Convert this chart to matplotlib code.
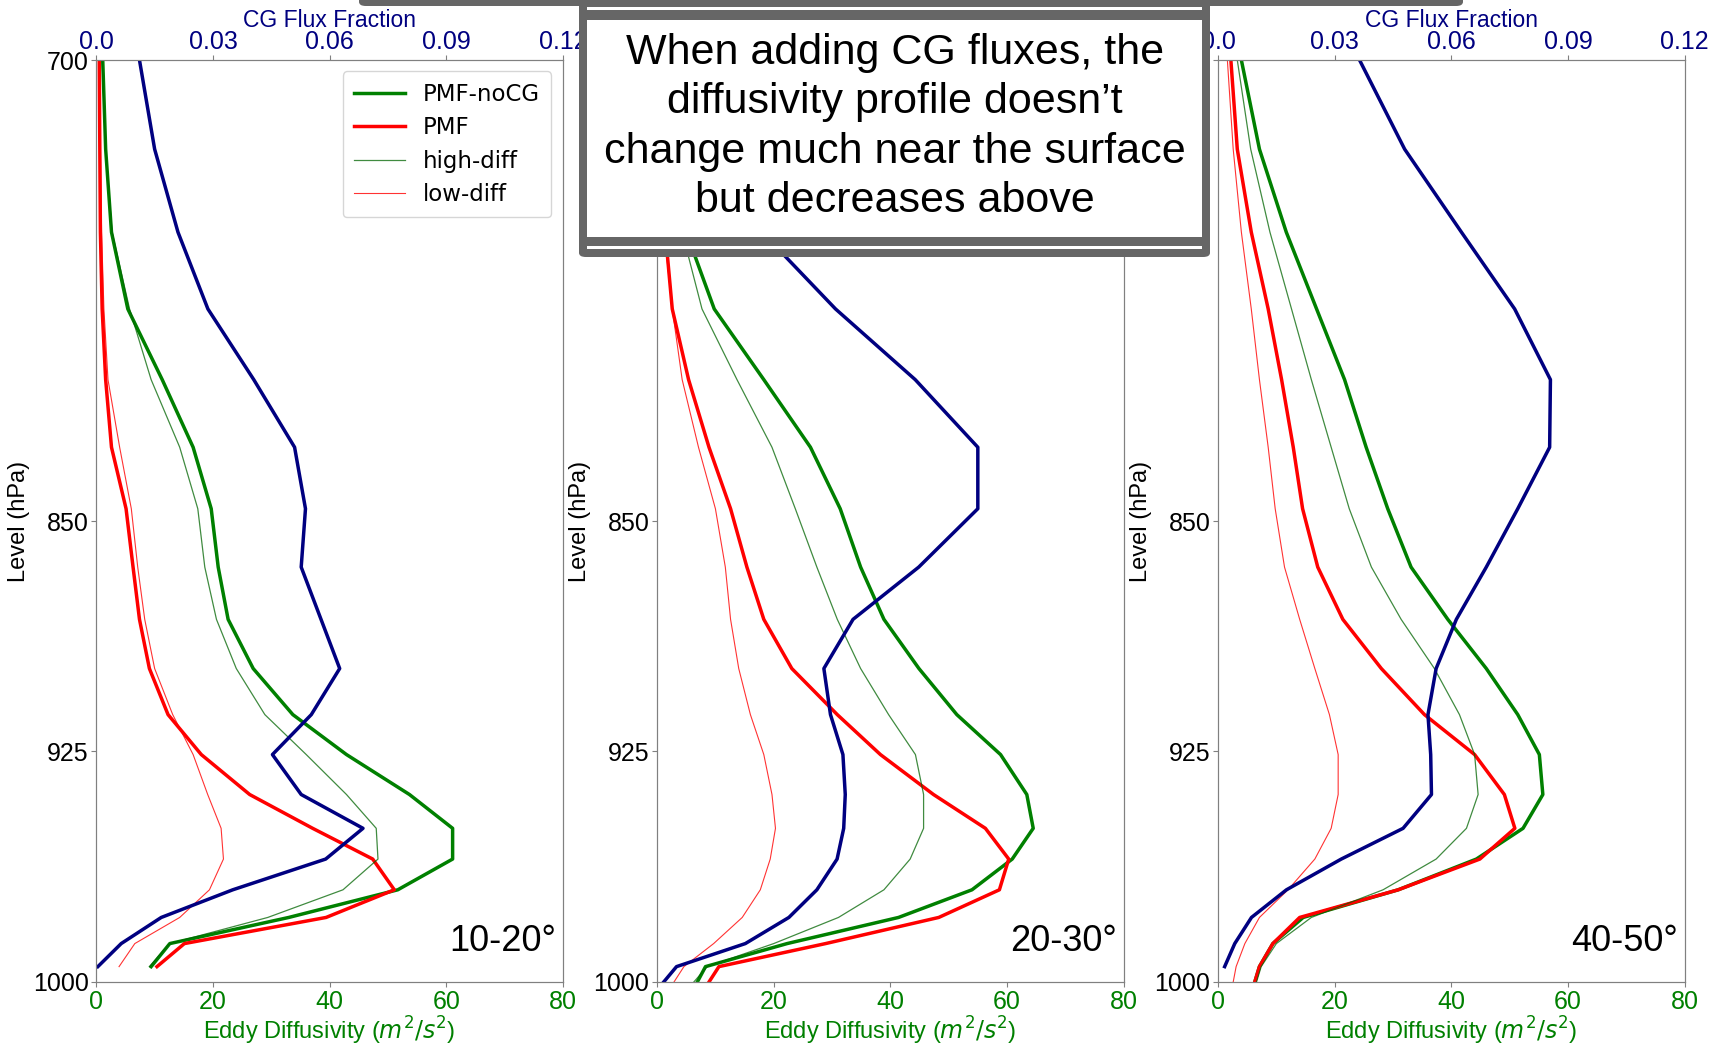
import matplotlib
matplotlib.use("Agg")
import matplotlib.pyplot as plt
from matplotlib.patches import Rectangle, FancyBboxPatch

plt.rcParams['font.family'] = ['Liberation Sans', 'DejaVu Sans']

# model levels (hPa)
LEV = [700, 729, 756, 781, 804, 826, 846, 865, 882, 898, 913, 926, 939, 950, 960, 970, 979, 987.5, 995]
LEV_SFC = LEV + [1000]

panel_names = ['10-20°', '20-30°', '40-50°']

# eddy diffusivity (m2/s2)
nocg_1 = [1.1, 1.6, 2.6, 5.4, 11.3, 16.6, 19.7, 20.9, 22.6, 26.9, 33.7, 42.9, 53.7, 61.1, 61.1, 51.7, 33.0, 12.6, 9.4]
pmf_1 = [0.5, 0.6, 0.7, 1.0, 1.6, 2.6, 5.1, 6.3, 7.4, 9.1, 12.3, 18.0, 26.3, 37.1, 47.4, 51.1, 39.4, 15.1, 10.4]
high_1 = [1.0, 1.6, 2.7, 5.7, 9.4, 14.3, 17.4, 18.6, 20.6, 24.0, 28.9, 36.0, 42.9, 48.0, 48.3, 42.3, 29.4, 12.6, 9.1]
low_1 = [0.6, 0.7, 0.9, 1.3, 2.0, 4.0, 6.0, 7.1, 8.3, 10.0, 13.1, 16.6, 19.1, 21.4, 21.8, 19.4, 14.3, 6.6, 3.9]

nocg_2 = [0.8, 2.5, 5.0, 9.8, 18.3, 26.3, 31.4, 34.9, 38.9, 44.9, 51.4, 58.9, 63.4, 64.5, 60.9, 54.0, 41.4, 22.3, 8.3, 6.9]
pmf_2 = [0.4, 0.8, 1.4, 2.6, 5.4, 8.9, 12.6, 15.4, 18.3, 23.1, 30.9, 38.3, 47.4, 56.3, 60.3, 58.7, 48.3, 28.9, 10.6, 8.9]
high_2 = [0.8, 2.2, 4.3, 7.7, 13.7, 19.7, 23.7, 27.4, 30.9, 34.9, 39.7, 44.3, 45.7, 45.7, 43.4, 38.9, 31.1, 20.0, 8.6, 6.3]
low_2 = [0.3, 0.6, 1.2, 2.6, 4.3, 7.1, 10.0, 11.7, 12.6, 14.0, 16.0, 18.3, 19.7, 20.3, 19.4, 17.7, 14.6, 9.7, 4.6, 2.9]

nocg_3 = [4.0, 7.1, 11.7, 16.9, 21.7, 25.4, 29.1, 33.1, 39.4, 46.0, 51.4, 55.1, 55.7, 52.3, 44.3, 30.9, 14.6, 9.4, 7.1, 6.3]
pmf_3 = [2.2, 3.3, 5.7, 8.6, 10.9, 12.9, 14.5, 17.1, 21.4, 28.0, 35.4, 44.0, 49.1, 50.9, 44.9, 30.9, 14.0, 9.4, 7.1, 6.3]
high_3 = [3.3, 5.6, 8.9, 12.6, 16.0, 19.4, 22.5, 26.3, 31.4, 37.1, 41.4, 44.0, 44.6, 42.6, 37.4, 28.3, 16.0, 10.0, 7.4, 6.6]
low_3 = [1.6, 2.6, 4.0, 5.7, 7.1, 8.6, 9.8, 11.4, 14.0, 16.6, 19.1, 20.6, 20.6, 19.4, 16.6, 12.0, 7.1, 4.6, 3.1, 2.6]

# CG flux fraction (top axis)
cg_1 = [0.0111, 0.0150, 0.0210, 0.0287, 0.0405, 0.0510, 0.0538, 0.0527, 0.0578, 0.0626, 0.0553, 0.0453,
        0.0527, 0.0686, 0.0590, 0.0351, 0.0167, 0.0064, 0.0004]
cg_2 = [0.008, 0.015, 0.027, 0.0459, 0.0664, 0.0825, 0.0825, 0.0673, 0.0504, 0.0429, 0.0446, 0.0478,
        0.0484, 0.0480, 0.0463, 0.0411, 0.0339, 0.0227, 0.0050, 0.0017]
cg_3 = [0.0364, 0.0480, 0.0626, 0.0763, 0.0855, 0.0853, 0.0771, 0.0690, 0.0613, 0.0561, 0.0540, 0.0547,
        0.0549, 0.0476, 0.0317, 0.0176, 0.0086, 0.0043, 0.0017]

panels = [
    (LEV, nocg_1, pmf_1, high_1, low_1, LEV, cg_1),
    (LEV_SFC, nocg_2, pmf_2, high_2, low_2, LEV_SFC, cg_2),
    (LEV_SFC, nocg_3, pmf_3, high_3, low_3, LEV, cg_3),
]

fig = plt.figure(figsize=(17.17, 10.44), dpi=100)
lefts = [0.0561, 0.3827, 0.7094]
width, bottom, height = 0.2717, 0.0594, 0.8831
spine_col = '#808080'

for i, (lev, nocg, pmf, high, low, lev_cg, cg) in enumerate(panels):
    ax = fig.add_axes([lefts[i], bottom, width, height])
    ax.plot(nocg, lev, color='green', lw=2.5, label='PMF-noCG')
    ax.plot(pmf, lev, color='red', lw=2.5, label='PMF')
    ax.plot(high, lev, color='darkgreen', lw=0.9, alpha=0.75, label='high-diff')
    ax.plot(low, lev, color='red', lw=0.8, alpha=0.8, label='low-diff')
    ax.set_xlim(0, 80)
    ax.set_ylim(1000, 700)
    ax.set_yticks([700, 850, 925, 1000])
    ax.set_xticks([0, 20, 40, 60, 80])
    ax.tick_params(axis='x', colors=spine_col, labelcolor='green', labelsize=18, pad=2)
    ax.tick_params(axis='y', colors=spine_col, labelcolor='black', labelsize=18, pad=2)
    ax.set_xlabel('Eddy Diffusivity ($m^2/s^2$)', color='green', fontsize=17, labelpad=1)
    ax.set_ylabel('Level (hPa)', fontsize=17, labelpad=2)
    for s in ax.spines.values():
        s.set_color(spine_col)
    ax.text(0.985, 0.025, panel_names[i], transform=ax.transAxes, ha='right', va='bottom', fontsize=26)
    if i == 0:
        ax.legend(loc='upper right', prop={'family': 'DejaVu Sans', 'size': 16.5},
                  handlelength=2.2, borderpad=0.5, labelspacing=0.45)

    ax2 = ax.twiny()
    ax2.plot(cg, lev_cg, color='navy', lw=2.5)
    ax2.set_xlim(0, 0.12)
    ax2.set_xticks([0.0, 0.03, 0.06, 0.09, 0.12])
    ax2.set_xticklabels(['0.0', '0.03', '0.06', '0.09', '0.12'])
    ax2.tick_params(axis='x', colors=spine_col, labelcolor='navy', labelsize=18, pad=1)
    ax2.set_xlabel('CG Flux Fraction', color='navy', fontsize=16.5, labelpad=2)
    for s in ax2.spines.values():
        s.set_color(spine_col)

# annotation box on top of the middle panel
W, H = 1717.0, 1044.0
gray = '#666666'


def fig_rect(x0, y0, x1, y1, **kw):
    # pixel coords measured from top-left
    return Rectangle((x0 / W, 1 - y1 / H), (x1 - x0) / W, (y1 - y0) / H,
                     transform=fig.transFigure, **kw)


fig.add_artist(FancyBboxPatch((359 / W, 1 - 6 / H), (1463 - 359) / W, 20 / H,
                              boxstyle='round,pad=0,rounding_size=0.004',
                              transform=fig.transFigure, facecolor=gray, edgecolor='none', zorder=10))
fig.add_artist(FancyBboxPatch((579 / W, 1 - 257 / H), (1210 - 579) / W, 270 / H,
                              boxstyle='round,pad=0,rounding_size=0.004',
                              transform=fig.transFigure, facecolor=gray, edgecolor='none', zorder=10))
fig.add_artist(fig_rect(587, 20, 1202, 237, facecolor='white', edgecolor='none', zorder=11))
fig.add_artist(fig_rect(587, 7, 1202, 9.5, facecolor='white', edgecolor='none', zorder=11))
fig.add_artist(fig_rect(587, 246, 1202, 248.5, facecolor='white', edgecolor='none', zorder=11))
fig.text(895 / W, 1 - 127 / H,
         "When adding CG fluxes, the\ndiffusivity profile doesn\u2019t\nchange much near the surface\nbut decreases above",
         ha='center', va='center', fontsize=31, linespacing=1.3, zorder=12)

fig.savefig('out.png', dpi=100)
